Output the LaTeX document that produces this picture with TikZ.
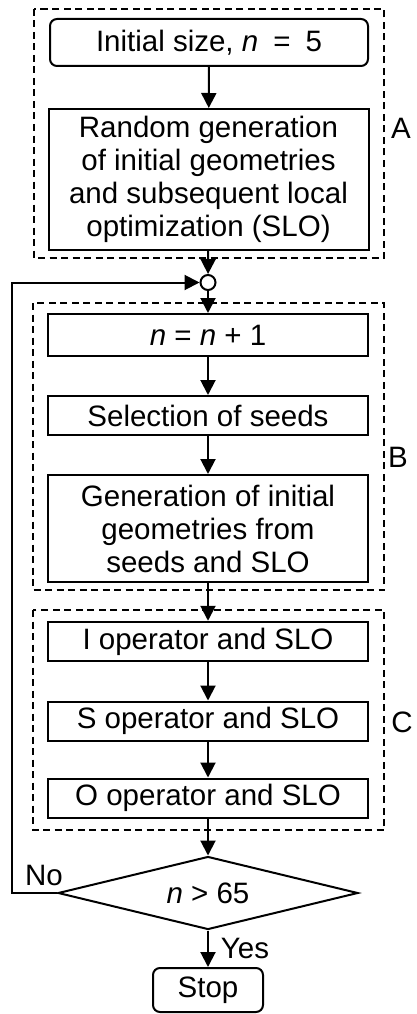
\documentclass[tikz,border=0pt]{standalone}
\usepackage{fontspec}
\setmainfont{Liberation Sans}
\usetikzlibrary{shapes.geometric,arrows.meta}
\begin{document}
\begin{tikzpicture}[x=1pt,y=-1pt,
  every node/.style={font=\fontsize{29.5}{33}\selectfont, inner sep=0pt},
  proc/.style={draw, line width=2pt, minimum width=320pt, align=center},
  term/.style={draw, line width=2pt, rounded corners=7pt, align=center},
  group/.style={draw, line width=1.8pt, dash pattern=on 7pt off 4.5pt},
  conn/.style={line width=2pt, -{Triangle[length=15pt,width=15pt]}},
  plain/.style={line width=2pt}
]
\useasboundingbox (0,0) rectangle (416,1014);
% group frames
\draw[group] (34,9) rectangle (384,258);
\draw[group] (33,303) rectangle (384,590);
\draw[group] (33,610) rectangle (384,830);
\node (la) at (401,128) {A};
\node (lb) at (398,457) {B};
\node (lc) at (402,722) {C};
% nodes
\node[term, minimum width=318pt, minimum height=47pt] (init) at (209,42.5) {Initial size, \textit{n}\hspace{15pt}=\hspace{15pt}5};
\node[proc, minimum height=141pt] (rand) at (208.5,179.5) {Random generation\\of initial geometries\\and subsequent local\\optimization (SLO)};
\node[draw, circle, line width=2pt, minimum size=15pt] (join) at (208,282.5) {};
\node[proc, minimum height=42pt] (nn) at (208,335) {\textit{n} = \textit{n} + 1};
\node[proc, minimum height=39pt] (sel) at (208,415.5) {Selection of seeds};
\node[proc, minimum height=107pt] (gen) at (208,528.5) {Generation of initial\\geometries from\\seeds and SLO};
\node[proc, minimum height=39.5pt] (iop) at (208,641.5) {I operator and SLO};
\node[proc, minimum height=39pt] (sop) at (208,721) {S operator and SLO};
\node[proc, minimum height=39pt] (oop) at (208,798) {O operator and SLO};
\node[draw, diamond, aspect=4, line width=2pt, minimum width=300pt, minimum height=73pt] (dec) at (208,893) {\textit{n} > 65};
\node[term, minimum width=110pt, minimum height=44pt] (stop) at (208,990) {Stop};
\node (no) at (44,875) {No};
\node (yes) at (245,948) {Yes};
\coordinate (fb1) at (12,893);
\coordinate (fb2) at (12,282.5);
% connectors
\draw[conn] (init) -- (rand);
\draw[conn] (rand) -- (join);
\draw[conn] (join) -- (nn);
\draw[conn] (nn) -- (sel);
\draw[conn] (sel) -- (gen);
\draw[conn] (gen) -- (iop);
\draw[conn] (iop) -- (sop);
\draw[conn] (sop) -- (oop);
\draw[conn] (oop) -- (dec);
\draw[conn] (dec) -- (stop);
\draw[conn] (dec.west) -- (fb1) -- (fb2) -- (join.west);
\end{tikzpicture}
\end{document}
